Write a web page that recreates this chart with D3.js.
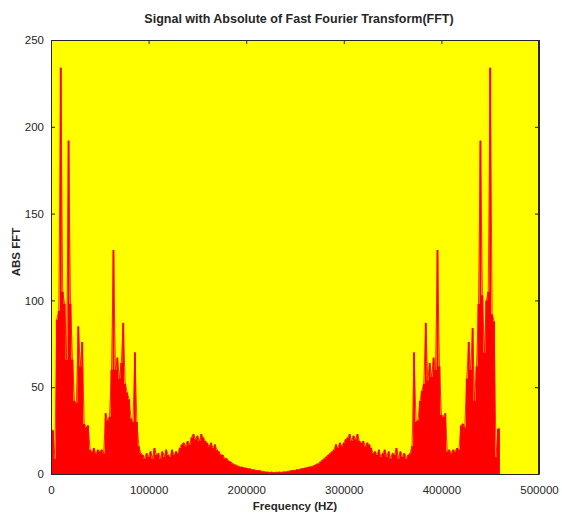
<!DOCTYPE html>
<html>
<head>
<meta charset="utf-8">
<script src="https://cdn.jsdelivr.net/npm/d3@7"></script>
<style>
  html, body { margin: 0; padding: 0; background: #ffffff; }
  svg { display: block; }
  text { font-family: "Liberation Sans", Arial, Helvetica, sans-serif; }
</style>
</head>
<body>
<svg id="chart" width="562" height="516"></svg>
<script>
// ---------- data ----------
const freqStep = 2000; // Hz between FFT bins
const absFFT = [
  26, 25, 9, 89, 94, 234, 105, 98, 66, 192,
  98, 66, 42, 41, 85, 62, 76, 29, 27, 28,
  14, 13, 15, 12, 14, 13, 14, 12, 35, 31,
  33, 60, 129, 60, 67, 55, 64, 87, 52, 47,
  43, 32, 30, 70, 30, 16, 12, 11, 9, 12,
  10, 13, 9, 15, 11, 12, 9, 13, 10, 14,
  11, 10, 14, 11, 13, 12, 15, 17, 18, 16,
  19, 17, 21, 23, 20, 22, 19, 23, 21, 19,
  18, 16, 18, 15, 17, 14, 13, 11, 11, 9,
  9, 7.5, 7, 6, 5.5, 5, 4.5, 4, 4, 3.5,
  3.5, 3, 3, 2.5, 2.5, 2, 2, 2, 1.5, 1.5,
  1.2, 1.2, 0.8, 1.2, 0.8, 1,
  1, 1.2, 0.8, 1.3, 1.2, 1.5, 1.6, 2, 2.1, 2,
  2.6, 2.5, 3, 3.1, 3.5, 3.6, 4, 4.2, 4.5, 5,
  5.6, 6, 7, 8, 9, 10, 11, 12, 13, 14,
  17, 15, 18, 16, 18, 20, 21, 23, 19, 22,
  20, 23, 19, 18, 19, 16, 18, 17, 15, 12,
  13, 11, 14, 10, 12, 14, 10, 13, 9, 12,
  11, 15, 9, 13, 10, 12, 9, 11, 12, 16,
  70, 30, 31, 42, 48, 52, 87, 54, 64, 56,
  67, 60, 129, 62, 34, 33, 35, 13, 14, 12,
  14, 13, 15, 14, 28, 29, 27, 55, 76, 60,
  84, 42, 62, 98, 192, 103, 70, 100, 105, 234,
  92, 88, 10, 26, 26
];
const xTickValues = [0, 100000, 200000, 300000, 400000, 500000];
const yTickValues = [0, 50, 100, 150, 200, 250];
const titleText = "Signal with Absolute of Fast Fourier Transform(FFT)";
const xLabelText = "Frequency (HZ)";
const yLabelText = "ABS FFT";

// ---------- layout ----------
const plot = { left: 51, right: 539, top: 40, bottom: 474 };
const axisColor = "#262626";

const x = d3.scaleLinear().domain([0, 500000]).range([plot.left, plot.right]);
const y = d3.scaleLinear().domain([0, 250]).range([plot.bottom, plot.top]);

const svg = d3.select("#chart");

// plot background
svg.append("rect")
  .attr("x", plot.left).attr("y", plot.top)
  .attr("width", plot.right - plot.left).attr("height", plot.bottom - plot.top)
  .attr("fill", "#ffff00");

function styleAxis(g) {
  g.selectAll("path.domain").attr("stroke", axisColor);
  g.selectAll(".tick line").attr("stroke", axisColor);
  g.selectAll(".tick text").attr("fill", axisColor)
    .style("font-family", '"Liberation Sans", Arial, Helvetica, sans-serif')
    .style("font-size", "11.5px");
}

// axes (ticks inward on all four sides)
svg.append("g").attr("transform", `translate(0,${plot.bottom})`)
  .call(d3.axisBottom(x).tickValues(xTickValues).tickFormat(d3.format("d"))
    .tickSizeInner(-4).tickSizeOuter(0).tickPadding(12))
  .call(styleAxis);
svg.append("g").attr("transform", `translate(0,${plot.top})`)
  .call(d3.axisTop(x).tickValues(xTickValues).tickFormat("")
    .tickSizeInner(-4).tickSizeOuter(0))
  .call(styleAxis);
svg.append("g").attr("transform", `translate(${plot.left},0)`)
  .call(d3.axisLeft(y).tickValues(yTickValues).tickFormat(d3.format("d"))
    .tickSizeInner(-4).tickSizeOuter(0).tickPadding(7))
  .call(styleAxis);
svg.append("g").attr("transform", `translate(${plot.right},0)`)
  .call(d3.axisRight(y).tickValues(yTickValues).tickFormat("")
    .tickSizeInner(-4).tickSizeOuter(0))
  .call(styleAxis);

// FFT magnitude
const pts = absFFT.map((v, i) => ({ f: i * freqStep, v: v }));
svg.append("path")
  .datum(pts)
  .attr("fill", "#ff0000")
  .attr("d", d3.area().curve(d3.curveStep).x(d => x(d.f)).y0(y(0)).y1(d => y(d.v)));
svg.append("path")
  .datum(pts)
  .attr("fill", "none")
  .attr("stroke", "#ff0000")
  .attr("stroke-width", 0.8)
  .attr("d", d3.line().x(d => x(d.f)).y(d => y(d.v)));

// box frame on top
svg.append("rect")
  .attr("x", plot.left + 0.5).attr("y", plot.top + 0.5)
  .attr("width", plot.right - plot.left - 1).attr("height", plot.bottom - plot.top)
  .attr("fill", "none").attr("stroke", axisColor).attr("stroke-width", 1);

// title and labels
svg.append("text")
  .attr("x", 299).attr("y", 23)
  .attr("text-anchor", "middle")
  .attr("fill", axisColor)
  .style("font-size", "12.5px").style("font-weight", "bold")
  .text(titleText);
svg.append("text")
  .attr("x", 295).attr("y", 510)
  .attr("text-anchor", "middle")
  .attr("fill", axisColor)
  .style("font-size", "11.5px").style("font-weight", "bold")
  .text(xLabelText);
svg.append("text")
  .attr("transform", "translate(19.5,252) rotate(-90)")
  .attr("text-anchor", "middle")
  .attr("fill", axisColor)
  .style("font-size", "11.5px").style("font-weight", "bold")
  .text(yLabelText);
</script>
</body>
</html>
